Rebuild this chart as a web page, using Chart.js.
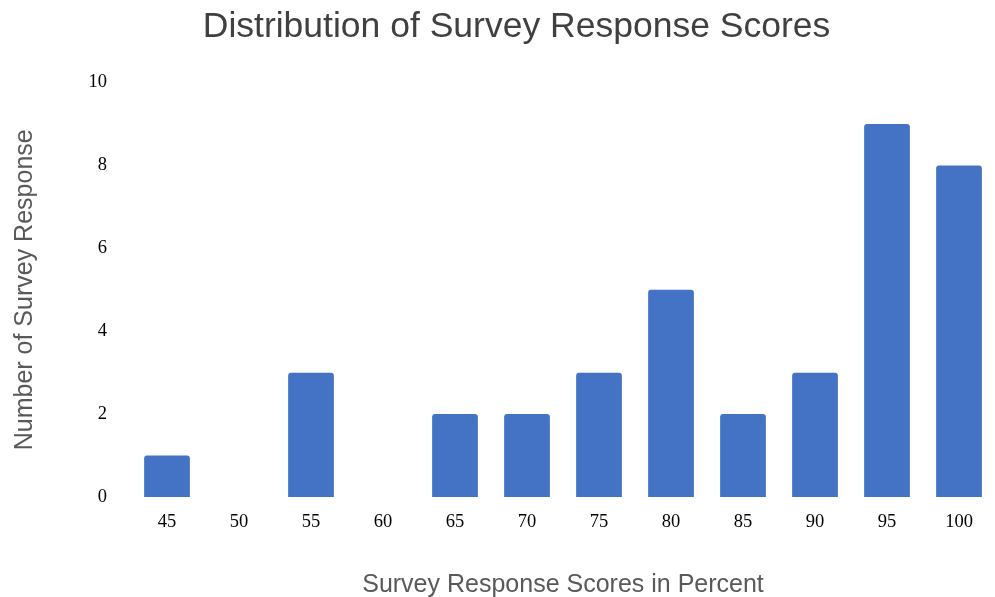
<!DOCTYPE html>
<html lang="en">
<head>
  <meta charset="UTF-8">
  <title>Distribution of Survey Response Scores</title>
  <script src="https://cdn.jsdelivr.net/npm/chart.js"></script>
  <style>
    html, body { margin: 0; padding: 0; background: #FFFFFF; }
    #wrap { width: 995px; height: 597px; position: relative; }
  </style>
</head>
<body>
  <div id="wrap"><canvas id="chart"></canvas></div>

  <script>
    const scores = ['45', '50', '55', '60', '65', '70', '75', '80', '85', '90', '95', '100'];
    const responses = [1, 0, 3, 0, 2, 2, 3, 5, 2, 3, 9, 8];
    const yTicks = [0, 2, 4, 6, 8, 10];

    const ctx = document.getElementById('chart');
    new Chart(ctx, {
      type: 'bar',
      data: {
        labels: scores,
        datasets: [{
          label: 'Number of Survey Response',
          data: responses,
          backgroundColor: '#4472C4',
          borderRadius: 3,
          borderSkipped: 'bottom',
          barPercentage: 0.635,
          categoryPercentage: 1
        }]
      },
      options: {
        responsive: true,
        maintainAspectRatio: false,
        animation: false,
        // left padding pushes the title centre right, like the original
        layout: { padding: { left: 38, right: 0, top: 0, bottom: 0 } },
        plugins: {
          legend: { display: false },
          tooltip: { enabled: false },
          title: {
            display: true,
            text: 'Distribution of Survey Response Scores',
            color: '#404040',
            font: { family: 'Liberation Sans', size: 35.5, weight: 'normal' },
            padding: { top: 6, bottom: 34 }
          }
        },
        scales: {
          x: {
            grid: { display: false, drawTicks: false },
            border: { display: false },
            ticks: {
              color: '#000000',
              font: { family: 'Liberation Serif', size: 18.5 },
              padding: 14
            },
            title: {
              display: true,
              text: 'Survey Response Scores in Percent',
              color: '#595959',
              font: { family: 'Liberation Sans', size: 25 },
              padding: { top: 38, bottom: -3 }
            },
            afterFit(scale) { scale.height = 100; }
          },
          y: {
            min: 0,
            max: 10,
            grid: { display: false, drawTicks: false },
            border: { display: false },
            afterBuildTicks(scale) { scale.ticks = yTicks.map(v => ({ value: v })); },
            ticks: {
              color: '#000000',
              font: { family: 'Liberation Serif', size: 18.5 },
              padding: 24
            },
            title: {
              display: true,
              text: 'Number of Survey Response',
              color: '#595959',
              font: { family: 'Liberation Sans', size: 25 },
              padding: { top: -28, bottom: 0 }
            },
            afterFit(scale) { scale.width = 93; }
          }
        }
      }
    });
  </script>
</body>
</html>
